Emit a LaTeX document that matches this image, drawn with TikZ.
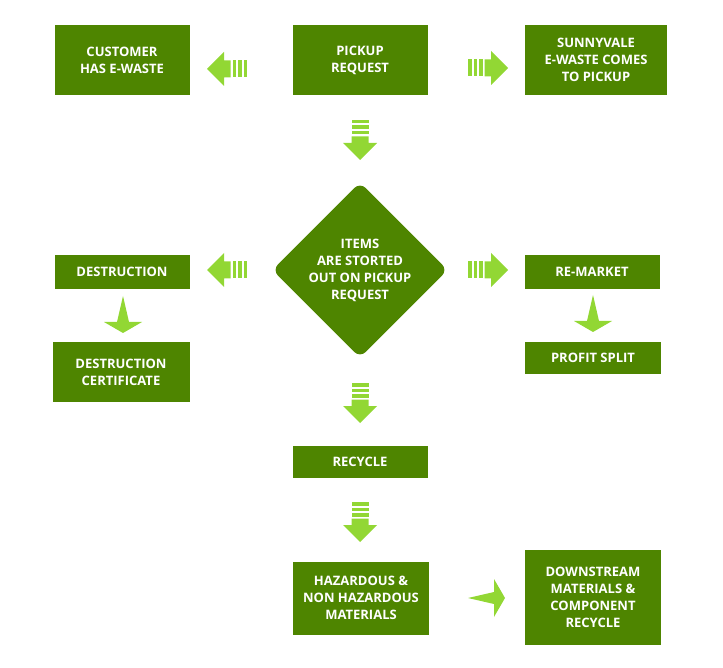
\documentclass[tikz,border=0pt]{standalone}
\usepackage{fontspec}
\setmainfont{Open Sans}
\usetikzlibrary{positioning}
\definecolor{boxgreen}{HTML}{4E8500}
\definecolor{arrowgreen}{HTML}{92D734}
\tikzset{
  stage/.style={fill=boxgreen, text=white, font=\fontsize{13}{17}\selectfont\bfseries,
    align=center, inner sep=0pt},
  stripedarrow/.pic={
    \fill[arrowgreen] (0,-8.5) rectangle (3.5,8.5);
    \fill[arrowgreen] (5.5,-8.5) rectangle (9,8.5);
    \fill[arrowgreen] (11,-8.5) rectangle (14.5,8.5);
    \fill[arrowgreen] (16.5,-8.5) -- (23,-8.5) -- (23,-17) -- (40,0) -- (23,17)
      -- (23,8.5) -- (16.5,8.5) -- cycle;
  },
  plainarrow/.pic={
    \fill[arrowgreen] (0,0) -- (26,-6) -- (26,-19) -- (37,0) -- (26,19) -- (26,6) -- cycle;
  }
}
\begin{document}
\begin{tikzpicture}[x=1pt,y=-1pt]
\useasboundingbox (0,0) rectangle (723,668);

\node[stage, minimum width=135pt, minimum height=70pt] (customer) at (122,60) {CUSTOMER\\HAS E-WASTE};
\node[stage, minimum width=135pt, minimum height=70pt] (pickup) at (360,60) {PICKUP\\REQUEST};
\node[stage, minimum width=142pt, minimum height=70pt] (sunnyvale) at (596,60) {SUNNYVALE\\E-WASTE COMES\\TO PICKUP};
\node[stage, rotate=45, minimum width=124pt, minimum height=124pt, rounded corners=8pt] (items) at (360,270) {};
\node[text=white, font=\fontsize{13}{17}\selectfont\bfseries, align=center] (itemstext) at (items) {ITEMS\\ARE STORTED\\OUT ON PICKUP\\REQUEST};
\node[stage, minimum width=135pt, minimum height=34pt] (destruction) at (122,272) {DESTRUCTION};
\node[stage, minimum width=137pt, minimum height=59pt] (certificate) at (121,372) {DESTRUCTION\\CERTIFICATE};
\node[stage, minimum width=135pt, minimum height=34pt] (remarket) at (592,272) {RE-MARKET};
\node[stage, minimum width=136pt, minimum height=31pt] (profit) at (593,358) {PROFIT SPLIT};
\node[stage, minimum width=135pt, minimum height=32pt] (recycle) at (360,462) {RECYCLE};
\node[stage, minimum width=136pt, minimum height=73pt] (hazardous) at (361,598) {HAZARDOUS \&\\NON HAZARDOUS\\MATERIALS};
\node[stage, minimum width=136pt, minimum height=95pt] (downstream) at (593,597) {DOWNSTREAM\\MATERIALS \&\\COMPONENT\\RECYCLE};

% striped arrows
\pic[rotate=180] at (247,69) {stripedarrow};
\pic at (468,68) {stripedarrow};
\pic[rotate=-90] at (360,120) {stripedarrow};
\pic[rotate=180] at (247,270) {stripedarrow};
\pic at (468,270) {stripedarrow};
\pic[rotate=-90] at (360,383) {stripedarrow};
\pic[rotate=-90] at (360,502) {stripedarrow};

% plain arrows
\pic[rotate=-90] at (123,296) {plainarrow};
\pic[rotate=-90] at (593,295) {plainarrow};
\pic at (468,598) {plainarrow};
\end{tikzpicture}
\end{document}
